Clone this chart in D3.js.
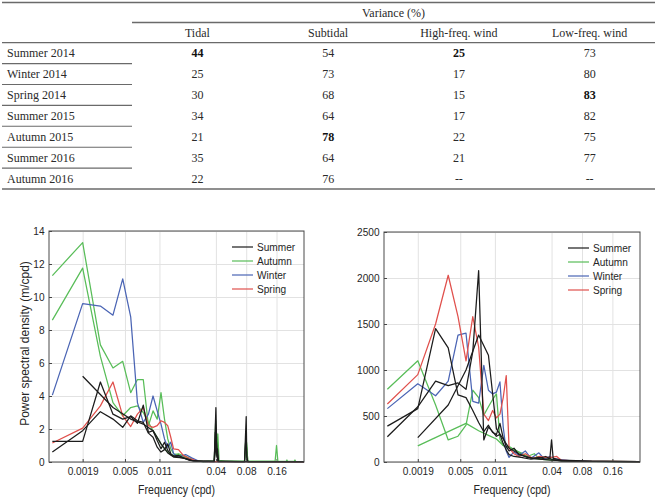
<!DOCTYPE html>
<html>
<head>
<meta charset="utf-8">
<script src="https://cdn.jsdelivr.net/npm/d3@7"></script>
<style>
  body { margin: 0; background: #fff; }
  svg { display: block; }
</style>
</head>
<body>
<svg id="fig" width="659" height="504"></svg>
<script>
// TABLE DATA
const rowLabels = ["Summer 2014", "Winter 2014", "Spring 2014", "Summer 2015", "Autumn 2015", "Summer 2016", "Autumn 2016"];
const colLabels = ["Tidal", "Subtidal", "High-freq. wind", "Low-freq. wind"];
const tidal = ["44", "25", "30", "34", "21", "35", "22"];
const subtidal = ["54", "73", "68", "64", "78", "64", "76"];
const highWind = ["25", "17", "15", "17", "22", "21", "--"];
const lowWind = ["73", "80", "83", "82", "75", "77", "--"];
// bold cells as [row, col]
const boldCells = [[0, 0], [0, 2], [2, 3], [4, 1]];

// SPECTRA: [frequency (cpd), value]
const seasons = ["Summer", "Autumn", "Winter", "Spring"];
const xTicks = [0.0019, 0.005, 0.011, 0.04, 0.08, 0.16];
const xTickLabels = ["0.0019", "0.005", "0.011", "0.04", "0.08", "0.16"];
const leftYTicks = [0, 2, 4, 6, 8, 10, 12, 14];
const rightYTicks = [0, 500, 1000, 1500, 2000, 2500];

const leftSummer2014 = [[0.00095,1.25],[0.0019,1.25],[0.00285,4.85],[0.0038,2.9],[0.00475,2.6],[0.0057,2.75],[0.00665,2.35],[0.0076,3.45],[0.00855,1.8],[0.0095,1.9],[0.01045,1.3],[0.0114,0.8],[0.01235,1.2],[0.0133,0.7],[0.01425,0.45],[0.0152,0.35],[0.017,0.4],[0.019,0.25],[0.022,0.1],[0.027,0.05],[0.0385,0.05],[0.04,3.3],[0.041,0.3],[0.0415,0.8],[0.0425,0.05],[0.06,0.03],[0.077,0.03],[0.08,2.75],[0.081,0.3],[0.083,0.03],[0.3,0.02]];
const leftSummer2015 = [[0.00095,0.6],[0.0019,1.9],[0.00285,3.05],[0.0038,2.6],[0.00475,2.1],[0.0057,2.8],[0.00665,2.5],[0.0076,2.4],[0.00855,1.75],[0.0095,1.5],[0.01045,0.9],[0.0114,0.6],[0.01235,0.75],[0.0133,1.1],[0.01425,0.5],[0.0152,0.35],[0.017,0.3],[0.02,0.2],[0.024,0.05],[0.0385,0.03],[0.0395,1.8],[0.0405,0.6],[0.042,0.03],[0.077,0.03],[0.0795,1.5],[0.0815,0.2],[0.083,0.03],[0.3,0.02]];
const leftSummer2016 = [[0.0019,5.2],[0.0038,3.3],[0.0057,2.6],[0.0076,2.3],[0.0095,1.9],[0.0114,1.1],[0.0133,0.55],[0.0152,0.3],[0.019,0.25],[0.023,0.1],[0.03,0.03],[0.0385,0.05],[0.0405,1.2],[0.042,0.05],[0.08,0.03],[0.3,0.02]];
const leftAutumn2015 = [[0.00095,11.3],[0.0019,13.3],[0.00285,7.1],[0.0038,5.7],[0.00475,6.1],[0.0057,4.2],[0.00665,5.0],[0.0076,5.0],[0.00855,2.2],[0.0095,3.1],[0.01045,2.6],[0.0114,4.2],[0.01235,2.6],[0.0133,1.4],[0.01425,0.8],[0.0152,0.5],[0.017,0.45],[0.02,0.3],[0.024,0.1],[0.03,0.05],[0.0385,0.05],[0.0398,2.5],[0.0408,0.4],[0.0418,1.7],[0.043,0.1],[0.05,0.05],[0.077,0.05],[0.0795,1.6],[0.083,0.05],[0.155,0.05],[0.16,1.0],[0.165,0.05],[0.2,0.04],[0.203,0.12],[0.206,0.04],[0.24,0.04],[0.244,0.12],[0.248,0.04],[0.3,0.03]];
const leftAutumn2016 = [[0.00095,8.6],[0.0019,11.75],[0.00285,6.4],[0.0038,3.6],[0.00475,2.8],[0.0057,3.3],[0.00665,3.4],[0.0076,3.0],[0.00855,2.4],[0.0095,1.9],[0.01045,1.5],[0.0114,1.1],[0.01235,0.8],[0.0133,0.6],[0.01425,0.45],[0.0152,0.4],[0.017,0.5],[0.02,0.35],[0.024,0.1],[0.03,0.03],[0.0385,0.05],[0.0402,1.7],[0.042,0.05],[0.077,0.03],[0.0805,1.2],[0.083,0.03],[0.3,0.02]];
const leftWinter2014 = [[0.00095,4.05],[0.0019,9.6],[0.00285,9.45],[0.0038,8.9],[0.00475,11.1],[0.0057,8.8],[0.00665,3.6],[0.0076,2.4],[0.00855,2.9],[0.0095,4.0],[0.01045,3.1],[0.0114,2.3],[0.01235,1.4],[0.0133,0.9],[0.01425,1.2],[0.0152,0.5],[0.017,0.3],[0.02,0.45],[0.023,0.25],[0.027,0.05],[0.035,0.03],[0.3,0.01]];
const leftSpring2014 = [[0.00095,1.15],[0.0019,2.05],[0.00285,3.4],[0.0038,4.85],[0.00475,2.8],[0.0057,2.15],[0.00665,2.9],[0.0076,3.3],[0.00855,2.2],[0.0095,2.1],[0.01045,2.2],[0.0114,2.5],[0.01235,2.4],[0.0133,2.2],[0.01425,1.5],[0.0152,0.8],[0.017,0.75],[0.019,0.4],[0.022,0.2],[0.026,0.05],[0.035,0.03],[0.3,0.01]];

const rightSummer2014 = [[0.00095,390],[0.0019,580],[0.00285,1450],[0.0038,1240],[0.00475,730],[0.0057,700],[0.00665,560],[0.0076,430],[0.00855,330],[0.0095,400],[0.01045,320],[0.0114,300],[0.01235,420],[0.0133,260],[0.01425,170],[0.0152,120],[0.017,150],[0.019,80],[0.022,60],[0.026,40],[0.03,50],[0.035,30],[0.0385,40],[0.04,240],[0.0415,40],[0.05,20],[0.07,15],[0.1,8],[0.3,3]];
const rightSummer2015 = [[0.00095,275],[0.0019,600],[0.00285,880],[0.0038,830],[0.00475,860],[0.0057,790],[0.00665,1200],[0.0076,2080],[0.00855,240],[0.0095,380],[0.01045,330],[0.0114,280],[0.01235,300],[0.0133,200],[0.01425,130],[0.0152,80],[0.017,60],[0.02,50],[0.025,30],[0.03,40],[0.035,60],[0.04,30],[0.05,10],[0.3,3]];
const rightSummer2016 = [[0.0019,265],[0.0038,620],[0.0057,1000],[0.0076,1380],[0.0095,1160],[0.0114,360],[0.0133,250],[0.0152,150],[0.019,90],[0.023,50],[0.03,30],[0.04,20],[0.06,10],[0.3,3]];
const rightAutumn2015 = [[0.00095,790],[0.0019,1100],[0.00285,620],[0.0038,240],[0.00475,280],[0.0057,400],[0.00665,780],[0.0076,700],[0.00855,510],[0.0095,600],[0.01045,680],[0.0114,740],[0.01235,250],[0.0133,180],[0.01425,160],[0.0152,170],[0.017,130],[0.02,100],[0.023,60],[0.027,90],[0.03,40],[0.035,50],[0.04,30],[0.05,15],[0.08,8],[0.3,3]];
const rightAutumn2016 = [[0.0019,175],[0.0038,330],[0.0057,420],[0.0076,340],[0.0095,290],[0.0114,250],[0.0133,180],[0.0152,160],[0.017,140],[0.02,90],[0.024,50],[0.03,30],[0.04,20],[0.06,10],[0.3,3]];
const rightWinter2014 = [[0.00095,580],[0.0019,850],[0.00285,720],[0.0038,880],[0.00475,1380],[0.0057,1400],[0.00665,660],[0.0076,640],[0.00855,1050],[0.0095,780],[0.01045,740],[0.0114,760],[0.01235,870],[0.0133,380],[0.01425,120],[0.0152,50],[0.017,110],[0.019,70],[0.022,120],[0.025,40],[0.03,100],[0.034,30],[0.038,60],[0.045,30],[0.06,15],[0.1,8],[0.3,3]];
const rightSpring2014 = [[0.00095,630],[0.0019,950],[0.00285,1500],[0.0038,2030],[0.00475,1580],[0.0057,1100],[0.00665,1580],[0.0076,1250],[0.00855,520],[0.0095,450],[0.01045,560],[0.0114,480],[0.01235,520],[0.0133,700],[0.01425,940],[0.0152,150],[0.017,90],[0.019,60],[0.022,90],[0.026,40],[0.03,60],[0.035,50],[0.04,50],[0.045,60],[0.05,20],[0.07,10],[0.3,3]];

const leftSeries = [
  { season: "Autumn", pts: leftAutumn2015 }, { season: "Autumn", pts: leftAutumn2016 },
  { season: "Winter", pts: leftWinter2014 }, { season: "Spring", pts: leftSpring2014 },
  { season: "Summer", pts: leftSummer2014 }, { season: "Summer", pts: leftSummer2015 }, { season: "Summer", pts: leftSummer2016 },
];
const rightSeries = [
  { season: "Autumn", pts: rightAutumn2015 }, { season: "Autumn", pts: rightAutumn2016 },
  { season: "Winter", pts: rightWinter2014 }, { season: "Spring", pts: rightSpring2014 },
  { season: "Summer", pts: rightSummer2014 }, { season: "Summer", pts: rightSummer2015 }, { season: "Summer", pts: rightSummer2016 },
];

const color = d3.scaleOrdinal().domain(seasons).range(["#1c1c1c", "#58bd58", "#4a64b4", "#e0504c"]);

const svg = d3.select("#fig");
const serif = "'Liberation Serif', 'Times New Roman', serif";
const sans = "'Liberation Sans', Arial, Helvetica, sans-serif";
const squish = "scale(0.88,1)";

// TABLE
const tbl = svg.append("g").attr("font-family", serif).attr("font-size", 12).attr("fill", "#2a2a2a");
const colX = d3.scaleBand().domain(colLabels).range([132, 655]);
const rowY = d3.scaleBand().domain(rowLabels).range([42.7, 189]);
const columns = [tidal, subtidal, highWind, lowWind];
const ruleColor = "#6a6a6a";

tbl.append("line").attr("x1", 2).attr("x2", 655).attr("y1", 2.5).attr("y2", 2.5).attr("stroke", ruleColor).attr("stroke-width", 1.3);
tbl.append("line").attr("x1", 132).attr("x2", 655).attr("y1", 22.5).attr("y2", 22.5).attr("stroke", ruleColor).attr("stroke-width", 1.3);
tbl.append("line").attr("x1", 2).attr("x2", 655).attr("y1", 42.7).attr("y2", 42.7).attr("stroke", ruleColor).attr("stroke-width", 1.3);
tbl.append("line").attr("x1", 2).attr("x2", 655).attr("y1", 189).attr("y2", 189).attr("stroke", ruleColor).attr("stroke-width", 1.3);

tbl.append("text").attr("x", (132 + 655) / 2).attr("y", 17).attr("text-anchor", "middle").text("Variance (%)");
tbl.selectAll("text.col").data(colLabels).join("text").attr("class", "col")
  .attr("x", d => colX(d) + colX.bandwidth() / 2).attr("y", 37.3).attr("text-anchor", "middle").text(d => d);

tbl.selectAll("line.sep").data(rowLabels.slice(0, -1)).join("line").attr("class", "sep")
  .attr("x1", 2).attr("x2", 132)
  .attr("y1", d => rowY(d) + rowY.bandwidth()).attr("y2", d => rowY(d) + rowY.bandwidth())
  .attr("stroke", ruleColor).attr("stroke-width", 1.1);

tbl.selectAll("text.row").data(rowLabels).join("text").attr("class", "row")
  .attr("x", 7).attr("y", d => rowY(d) + rowY.bandwidth() / 2 + 4.2).text(d => d);

const cells = [];
columns.forEach((col, ci) => col.forEach((v, ri) => cells.push({ ri, ci, v })));
const isBold = d => boldCells.some(b => b[0] === d.ri && b[1] === d.ci);
tbl.selectAll("text.cell").data(cells).join("text").attr("class", "cell")
  .attr("x", d => colX(colLabels[d.ci]) + colX.bandwidth() / 2)
  .attr("y", d => rowY(rowLabels[d.ri]) + rowY.bandwidth() / 2 + 4.2)
  .attr("text-anchor", "middle")
  .attr("font-weight", d => isBold(d) ? "bold" : null)
  .attr("fill", d => isBold(d) ? "#111" : null)
  .text(d => d.v);

// CHARTS
function drawChart(frame, yTicks, series, yLabel) {
  const { left, right, top, bottom } = frame;
  const g = svg.append("g");
  const x = d3.scaleLog().domain([0.00088, 0.3]).range([left, right]);
  const y = d3.scaleLinear().domain([0, d3.max(yTicks)]).range([bottom, top]);

  // grid + labels
  const gx = g.append("g").attr("transform", `translate(0,${bottom})`)
    .call(d3.axisBottom(x).tickValues(xTicks).tickFormat((d, i) => xTickLabels[i])
      .tickSize(-(bottom - top)).tickPadding(5));
  const gy = g.append("g").attr("transform", `translate(${left},0)`)
    .call(d3.axisLeft(y).tickValues(yTicks).tickFormat(d3.format("d"))
      .tickSize(-(right - left)).tickPadding(5));
  [gx, gy].forEach(a => {
    a.select(".domain").remove();
    a.selectAll("line").attr("stroke", "#e2e2e2").attr("stroke-width", 1);
    a.attr("font-family", sans).attr("font-size", 11.5);
    a.selectAll("text").attr("fill", "#262626").attr("transform", squish);
  });

  // small inward ticks
  g.append("g").attr("transform", `translate(0,${bottom})`)
    .call(d3.axisBottom(x).tickValues(xTicks).tickFormat("").tickSizeInner(-3).tickSizeOuter(0))
    .call(a => a.select(".domain").remove())
    .selectAll("line").attr("stroke", "#444");
  g.append("g").attr("transform", `translate(${left},0)`)
    .call(d3.axisLeft(y).tickValues(yTicks).tickFormat("").tickSizeInner(-3).tickSizeOuter(0))
    .call(a => a.select(".domain").remove())
    .selectAll("line").attr("stroke", "#444");

  const line = d3.line().x(d => x(d[0])).y(d => y(d[1]));
  g.append("g").selectAll("path").data(series).join("path")
    .attr("d", d => line(d.pts))
    .attr("fill", "none")
    .attr("stroke", d => color(d.season))
    .attr("stroke-width", 1.25)
    .attr("stroke-linejoin", "round");

  // frame
  g.append("rect").attr("x", left).attr("y", top).attr("width", right - left).attr("height", bottom - top)
    .attr("fill", "none").attr("stroke", "#4a4a4a").attr("stroke-width", 1);

  // axis titles
  g.append("text").attr("font-family", sans).attr("font-size", 12).attr("fill", "#262626")
    .attr("text-anchor", "middle")
    .attr("transform", `translate(${(left + right) / 2},${bottom + 32}) ${squish}`)
    .text("Frequency (cpd)");
  if (yLabel) {
    g.append("text").attr("font-family", sans).attr("font-size", 12).attr("fill", "#262626")
      .attr("text-anchor", "middle")
      .attr("transform", `translate(${left - 20},${(top + bottom) / 2 - 3}) rotate(-90)`)
      .text(yLabel);
  }

  // legend
  const lg = g.append("g").attr("transform", `translate(${right - 72},${top + 16})`);
  const item = lg.selectAll("g").data(seasons).join("g")
    .attr("transform", (d, i) => `translate(0,${i * 14})`);
  item.append("line").attr("x1", 0).attr("x2", 21).attr("y1", 0).attr("y2", 0)
    .attr("stroke", d => color(d)).attr("stroke-width", 1.2);
  item.append("text").attr("transform", `translate(25,4) ${squish}`)
    .attr("font-family", sans).attr("font-size", 11.5).attr("fill", "#262626").text(d => d);
}

drawChart({ left: 49, right: 304, top: 231, bottom: 462 }, leftYTicks, leftSeries, "Power spectral density (m/cpd)");
drawChart({ left: 384, right: 640, top: 232, bottom: 462 }, rightYTicks, rightSeries, null);
</script>
</body>
</html>
